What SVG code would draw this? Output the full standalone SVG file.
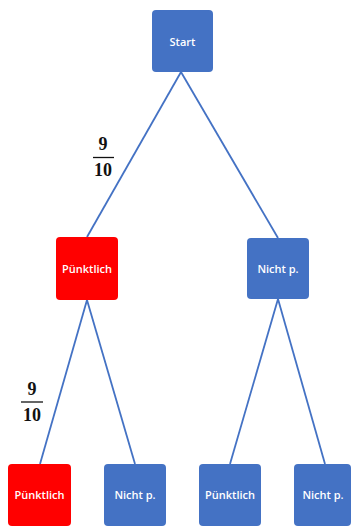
<svg xmlns="http://www.w3.org/2000/svg" width="353" height="527" viewBox="0 0 353 527">
<style>
.box{stroke:none}
.blue{fill:#4472C4}
.red{fill:#FF0000}
.lbl{fill:#fff;font-family:"Open Sans","Liberation Sans",sans-serif;font-size:11px;font-weight:600;text-anchor:middle;dominant-baseline:central}
.edge{stroke:#4472C4;stroke-width:1.8;fill:none}
.frac{font-family:"Liberation Serif",serif;font-weight:bold;font-size:18px;fill:#111;text-anchor:middle}
.bar{stroke:#111;stroke-width:1.3}
</style>
<rect width="353" height="527" fill="#fff"/>
<g id="connectors">
<line class="edge" x1="181" y1="72" x2="87" y2="237"/>
<line class="edge" x1="181" y1="72" x2="278" y2="238"/>
<line class="edge" x1="87" y1="300" x2="40" y2="464"/>
<line class="edge" x1="87" y1="300" x2="135" y2="464"/>
<line class="edge" x1="278" y1="299" x2="230" y2="464"/>
<line class="edge" x1="278" y1="299" x2="325" y2="464"/>
</g>
<g id="start"><rect class="box blue" x="152" y="10" width="61" height="62" rx="4"/><text class="lbl" x="182.5" y="41">Start</text></g>
<g id="p1"><rect class="box red" x="56" y="237" width="62" height="63" rx="4"/><text class="lbl" x="87" y="268.5">Pünktlich</text></g>
<g id="n1"><rect class="box blue" x="247" y="238" width="62" height="61" rx="4"/><text class="lbl" x="278" y="268.5">Nicht p.</text></g>
<g id="p2"><rect class="box red" x="8" y="464" width="63" height="62" rx="4"/><text class="lbl" x="39.5" y="494">Pünktlich</text></g>
<g id="n2"><rect class="box blue" x="104" y="464" width="62" height="62" rx="4"/><text class="lbl" x="135" y="494">Nicht p.</text></g>
<g id="p3"><rect class="box blue" x="199" y="464" width="62" height="62" rx="4"/><text class="lbl" x="230" y="494">Pünktlich</text></g>
<g id="n3"><rect class="box blue" x="294" y="464" width="57" height="62" rx="4"/><text class="lbl" x="323" y="494">Nicht p.</text></g>
<g id="frac1"><text class="frac" x="103" y="150">9</text><line class="bar" x1="93" y1="157.5" x2="114" y2="157.5"/><text class="frac" x="103" y="175.5">10</text></g>
<g id="frac2"><text class="frac" x="32" y="395">9</text><line class="bar" x1="21" y1="402" x2="43" y2="402"/><text class="frac" x="32" y="420.5">10</text></g>
</svg>
